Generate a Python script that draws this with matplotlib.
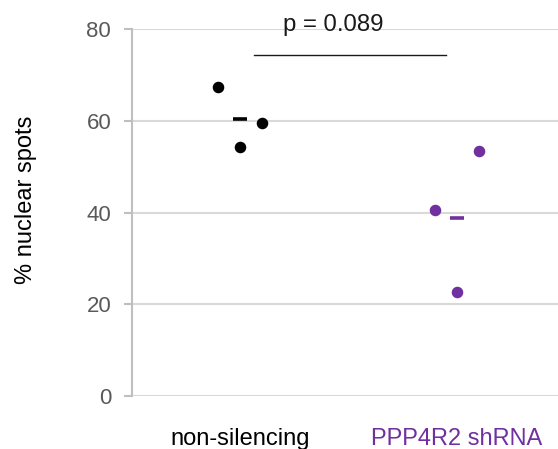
"""Nuclear spots dot plot: non-silencing vs PPP4R2 shRNA, with means and p-value bar."""
import matplotlib
matplotlib.use("Agg")
import matplotlib.pyplot as plt
import numpy as np

plt.rcParams["font.family"] = ["Liberation Sans", "DejaVu Sans"]

GROUPS = ["non-silencing", "PPP4R2 shRNA"]
GROUP_COLORS = ["#000000", "#7030A0"]
VALUES = [
    [67.4, 54.2, 59.5],   # non-silencing
    [40.5, 22.6, 53.4],   # PPP4R2 shRNA
]
JITTER = [-0.1, 0.0, 0.1]
P_TEXT = "p = 0.089"
Y_TICKS = [0, 20, 40, 60, 80]

fig = plt.figure(figsize=(5.58, 4.49), dpi=100)
ax = fig.add_axes([0.2366, 0.118, 0.7634, 0.8174])

xs = np.arange(1, len(GROUPS) + 1)
for x0, vals, color in zip(xs, VALUES, GROUP_COLORS):
    ax.plot(x0 + np.array(JITTER), vals, "o", color=color, markersize=7.3,
            linestyle="none", clip_on=False, zorder=3)
    m = np.mean(vals)
    ax.plot([x0 - 0.032, x0 + 0.032], [m, m], color=color, lw=2.6,
            solid_capstyle="butt", zorder=3)

# significance bar
ax.plot([1.063, 1.947], [74.3, 74.3], color="#1a1a1a", lw=1.0, zorder=3)
ax.text(1.43, 80.9, P_TEXT, ha="center", va="center", fontsize=17.3,
        color="#1a1a1a", clip_on=False)

ax.set_xlim(0.502, 2.465)
ax.set_ylim(0, 80)
ax.set_yticks(Y_TICKS)
ax.grid(axis="y", color="#d9d9d9", lw=1.5)
ax.set_axisbelow(True)
for s in ["top", "right", "bottom"]:
    ax.spines[s].set_visible(False)
ax.spines["left"].set_color("#bfbfbf")
ax.spines["left"].set_linewidth(1.5)
ax.tick_params(axis="y", length=6, width=1.5, color="#bfbfbf",
               labelsize=16, labelcolor="#595959", pad=9)
ax.tick_params(axis="x", length=0, labelsize=17, pad=23)
ax.set_xticks(xs)
ax.set_xticklabels(GROUPS)
for lbl, color in zip(ax.get_xticklabels(), GROUP_COLORS):
    lbl.set_color(color)

ax.set_ylabel("% nuclear spots", fontsize=17, color="#000000")
ax.yaxis.set_label_coords(-0.222, 0.535)

fig.savefig("out.png", dpi=100)
